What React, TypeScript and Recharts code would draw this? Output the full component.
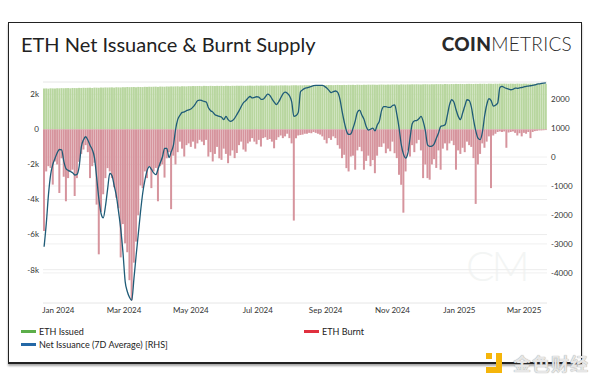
import { ComposedChart, Bar, Line, XAxis, YAxis, CartesianGrid } from 'recharts';

const MS_DAY = 86400000;
// one point every 2 days, first bar on 19 Dec 2023
const startDate = Date.UTC(2023, 11, 19);
const stepDays = 2;

const issued = [
  2330, 2335, 2320, 2340, 2335, 2330, 2345, 2340, 2350, 2345,
  2350, 2355, 2340, 2360, 2355, 2350, 2365, 2360, 2370, 2365,
  2370, 2375, 2360, 2380, 2375, 2370, 2385, 2380, 2390, 2385,
  2390, 2395, 2380, 2400, 2395, 2390, 2405, 2400, 2410, 2405,
  2410, 2415, 2400, 2420, 2415, 2410, 2425, 2420, 2430, 2425,
  2430, 2435, 2420, 2440, 2435, 2430, 2445, 2440, 2450, 2445,
  2450, 2455, 2440, 2460, 2455, 2450, 2465, 2460, 2470, 2465,
  2470, 2475, 2460, 2480, 2475, 2470, 2480, 2475, 2470, 2480,
  2475, 2480, 2470, 2485, 2480, 2475, 2485, 2480, 2490, 2485,
  2490, 2485, 2480, 2490, 2495, 2490, 2485, 2495, 2490, 2500,
  2495, 2500, 2490, 2505, 2500, 2495, 2505, 2500, 2510, 2505,
  2510, 2505, 2500, 2510, 2515, 2510, 2505, 2515, 2510, 2520,
  2515, 2520, 2510, 2525, 2520, 2515, 2525, 2520, 2530, 2525,
  2530, 2525, 2520, 2530, 2535, 2530, 2525, 2535, 2530, 2540,
  2535, 2540, 2530, 2545, 2540, 2535, 2545, 2540, 2550, 2545,
  2550, 2545, 2540, 2550, 2555, 2550, 2545, 2555, 2550, 2560,
  2555, 2560, 2550, 2565, 2560, 2555, 2565, 2560, 2570, 2565,
  2570, 2565, 2560, 2570, 2575, 2570, 2565, 2575, 2570, 2580,
  2575, 2580, 2570, 2585, 2580, 2575, 2585, 2580, 2590, 2585,
  2590, 2585, 2580, 2590, 2595, 2590, 2585, 2595, 2590, 2600,
  2595, 2600, 2590, 2605, 2600, 2595, 2605, 2600, 2610, 2605,
  2610, 2605, 2600, 2610, 2605, 2600, 2610, 2605, 2600, 2610,
  2605, 2600, 2610, 2605, 2600, 2610, 2605, 2600, 2610, 2605,
];

const burnt = [
  -5800, -2400, -2100, -2200, -3150, -1830, -2000, -3630, -1650, -2700,
  -4100, -2780, -2400, -2300, -3800, -2780, -1850, -1400, -1150, -900,
  -1300, -2780, -2100, -1900, -4290, -7125, -4700, -3700, -2780, -2210,
  -2400, -2780, -3300, -3900, -4500, -7300, -5400, -6500, -7000, -8600,
  -9750, -7600, -6400, -4900, -3200, -3350, -2400, -2780, -2120, -3350,
  -2400, -2200, -4100, -2100, -2000, -2750, -1650, -1300, -4550, -1500,
  -2000, -1300, -700, -1100, -1550, -900, -800, -1000, -700, -1100,
  -800, -600, -700, -900, -600, -1550, -1300, -1830, -1400, -1000,
  -1650, -1740, -1100, -1400, -1930, -1500, -1200, -1640, -1350, -900,
  -700, -1150, -1270, -800, -700, -500, -700, -850, -600, -980,
  -500, -450, -600, -550, -700, -1080, -600, -450, -350, -500,
  -400, -250, -500, -800, -5200, -500, -350, -320, -300, -250,
  -250, -200, -220, -150, -200, -250, -300, -400, -600, -800,
  -500, -600, -400, -500, -900, -1100, -1640, -1450, -2210, -2400,
  -1550, -1500, -2300, -1200, -1000, -1250, -2300, -1800, -1500, -2100,
  -1750, -2500, -1500, -1000, -1000, -800, -1360, -1100, -1250, -700,
  -1360, -1640, -2590, -3160, -4750, -2400, -1200, -1550, -900, -1300,
  -800, -600, -1200, -2780, -2000, -2780, -2870, -2000, -1700, -2200,
  -1200, -2300, -1100, -800, -1200, -800, -650, -900, -2300, -1200,
  -1400, -1050, -1300, -700, -900, -1000, -1640, -4250, -2000, -1400,
  -800, -1050, -700, -400, -3350, -350, -250, -150, -120, -150,
  -120, -1050, -180, -150, -120, -200, -350, -220, -400, -200,
  -250, -150, -500, -150, -100, -80, -60, -60, -50, -40,
];

const netIssuance = [
  -3100, -2300, -1300, -600, -250, -40, 150, 260, 250, -150,
  -400, -460, -500, -540, -620, -600, -330, 350, 600, 700,
  580, 400, 250, -30, -720, -1450, -1950, -2100, -1700, -1100,
  -560, -650, -1000, -1350, -1900, -2500, -3300, -4300, -4650, -4850,
  -4950, -4200, -3400, -2650, -1900, -1250, -800, -470, -330, -430,
  -550, -610, -420, -200, 0, 300, 300, -20, 180, 400,
  950, 1300, 1440, 1540, 1560, 1600, 1630, 1660, 1730, 1830,
  1940, 1966, 1950, 1920, 1900, 1700, 1600, 1550, 1460, 1430,
  1400, 1370, 1290, 1400, 1290, 1230, 1260, 1345, 1470, 1600,
  1750, 1880, 1943, 2030, 2090, 2040, 2060, 2080, 2070, 1990,
  2000, 2080, 2170, 2130, 2010, 1897, 1810, 1900, 2040, 2180,
  2240, 2200, 2110, 1900, 1400, 1430, 1540, 2250, 2320, 2370,
  2390, 2415, 2440, 2461, 2472, 2472, 2472, 2472, 2440, 2380,
  2300, 2220, 2260, 2280, 2230, 2000, 1575, 1200, 900, 780,
  800, 1000, 1250, 1550, 1620, 1450, 1300, 1050, 930, 960,
  1000, 900, 1100, 1240, 1600, 1740, 1740, 1713, 1713, 1780,
  1800, 1460, 1000, 425, 100, -35, 130, 650, 1150, 1250,
  1260, 1320, 1400, 1230, 900, 420, 368, 380, 448, 650,
  830, 1058, 1080, 1115, 1430, 1800, 1978, 1900, 1633, 1403,
  1290, 1520, 1760, 1978, 1950, 1720, 1280, 900, 650, 600,
  850, 1400, 1805, 2012, 1950, 1760, 1790, 1860, 2400, 2438,
  2400, 2370, 2346, 2323, 2340, 2380, 2370, 2390, 2400, 2420,
  2440, 2450, 2461, 2470, 2490, 2518, 2525, 2540, 2553, 2560,
];

const xTickDates = ['2024-01-01', '2024-03-01', '2024-05-01', '2024-07-01', '2024-09-01', '2024-11-01', '2025-01-01', '2025-03-01'];
const xTickLabels = ['Jan 2024', 'Mar 2024', 'May 2024', 'Jul 2024', 'Sep 2024', 'Nov 2024', 'Jan 2025', 'Mar 2025'];
const leftTicks = [-8000, -6000, -4000, -2000, 0, 2000];
const rightTicks = [-4000, -3000, -2000, -1000, 0, 1000, 2000];

const xTicks = xTickDates.map((d) => Date.parse(d + 'T00:00:00Z'));

const chartData = issued.map((v, i) => ({
  t: startDate + i * stepDays * MS_DAY,
  issued: v,
  burnt: burnt[i],
  net: netIssuance[i],
}));

const lastDate = startDate + (issued.length - 1) * stepDays * MS_DAY;

const FONT = 'Lato, "Open Sans", sans-serif';
const tickStyle = { fontSize: 8, fill: '#333', fontFamily: FONT };

function LegendItem({ color, label }: { color: string; label: string }) {
  return (
    <div style={{ display: 'flex', alignItems: 'center', height: 13 }}>
      <span style={{ display: 'inline-block', width: 15, height: 3.5, background: color, marginRight: 3 }} />
      <span>{label}</span>
    </div>
  );
}

export default function App() {
  return (
    <div style={{ position: 'absolute', left: 0, top: 0, width: 600, height: 375, background: '#fff', fontFamily: FONT, overflow: 'hidden' }}>
      {/* frame */}
      <div
        style={{
          position: 'absolute', left: 8, top: 22, width: 572, height: 339,
          border: '1.5px solid #222', borderBottomWidth: 2.5,
          boxShadow: '0 2px 2px rgba(0,0,0,0.35)',
        }}
      />
      <div style={{ position: 'absolute', left: 21, top: 32, fontSize: 20, lineHeight: '24px', color: '#222' }}>
        ETH Net Issuance &amp; Burnt Supply
      </div>
      <div style={{ position: 'absolute', right: 28, top: 33, fontSize: 19, lineHeight: '22px', color: '#2a2a2a', letterSpacing: 0.3 }}>
        <span style={{ fontWeight: 900 }}>COIN</span>
        <span style={{ fontWeight: 300 }}>METRICS</span>
      </div>

      {/* faint CM watermark */}
      <div style={{ position: 'absolute', left: 466, top: 240, fontSize: 42, fontWeight: 300, color: '#f3f5f4', letterSpacing: -3 }}>
        CM
      </div>

      <div style={{ position: 'absolute', left: 0, top: 0 }}>
        <ComposedChart
          width={580}
          height={320}
          data={chartData}
          stackOffset="sign"
          barCategoryGap={0}
          barGap={0}
          margin={{ top: 82, right: 0, left: 8, bottom: 0 }}
        >
          <CartesianGrid vertical={false} stroke="#ececec" yAxisId="left" />
          <CartesianGrid vertical={false} stroke="#f0f0f0" yAxisId="right" />
          <XAxis
            dataKey="t"
            type="number"
            domain={[startDate - MS_DAY, lastDate + MS_DAY]}
            ticks={xTicks}
            interval={0}
            tickFormatter={(v) => xTickLabels[xTicks.indexOf(v)]}
            axisLine={false}
            tickLine={false}
            tickSize={2}
            tickMargin={2}
            height={17}
            tick={tickStyle}
          />
          <YAxis
            yAxisId="left"
            orientation="left"
            width={35}
            domain={[-9900, 2700]}
            ticks={leftTicks}
            allowDataOverflow
            tickFormatter={(v) => (v === 0 ? '0' : `${v / 1000}k`)}
            axisLine={false}
            tickLine={false}
            tickSize={2}
            tickMargin={2}
            tick={tickStyle}
          />
          <YAxis
            yAxisId="right"
            orientation="right"
            width={33}
            domain={[-5040, 2590]}
            ticks={rightTicks}
            allowDataOverflow
            axisLine={false}
            tickLine={false}
            tickSize={2}
            tickMargin={2}
            tick={tickStyle}
          />
          <Bar yAxisId="left" dataKey="issued" stackId="s" fill="#b8d69f" isAnimationActive={false} />
          <Bar yAxisId="left" dataKey="burnt" stackId="s" fill="#d6949d" isAnimationActive={false} />
          <Line
            yAxisId="right"
            dataKey="net"
            type="monotone"
            stroke="#1f5c78"
            strokeWidth={1.3}
            dot={false}
            isAnimationActive={false}
          />
        </ComposedChart>
      </div>

      {/* legend */}
      <div style={{ position: 'absolute', left: 21, top: 325, fontSize: 9, color: '#222' }}>
        <LegendItem color="#5cae4a" label="ETH Issued" />
        <LegendItem color="#2468a6" label="Net Issuance (7D Average) [RHS]" />
      </div>
      <div style={{ position: 'absolute', left: 304, top: 325, fontSize: 9, color: '#222' }}>
        <LegendItem color="#e0303e" label="ETH Burnt" />
      </div>

      {/* site watermark */}
      <div style={{ position: 'absolute', left: 486, top: 350, display: 'flex', alignItems: 'center' }}>
        <svg width={18} height={20}>
          <rect x={0} y={0} width={6} height={6} fill="#f5b50a" />
          <path d="M10 0 H16 V20 H0 V14 H10 Z" fill="#f5b50a" />
        </svg>
        <span
          style={{
            marginLeft: 9, fontSize: 18, fontWeight: 700, color: '#e6e6e6',
            fontFamily: '"Noto Sans CJK SC", sans-serif', letterSpacing: 1,
            textShadow: '0 0 1px #888',
          }}
        >
          金色财经
        </span>
      </div>
    </div>
  );
}
